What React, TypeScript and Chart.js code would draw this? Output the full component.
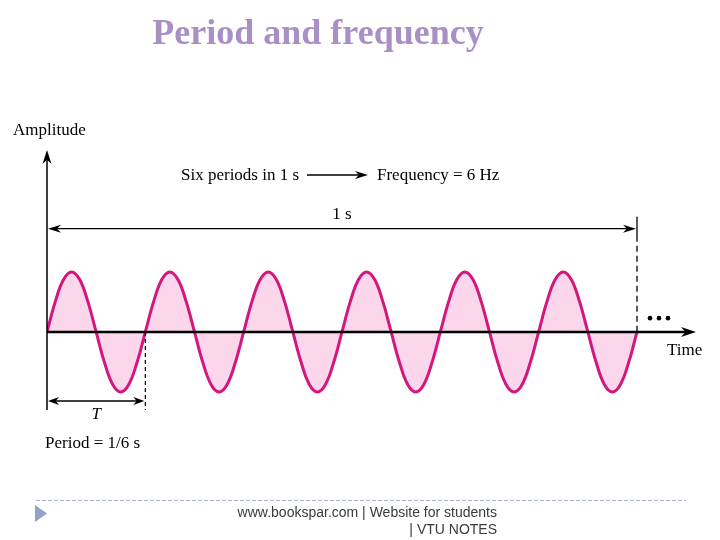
import React, { useEffect, useRef } from "react";
import { Chart, registerables } from "chart.js";

Chart.register(...registerables);

// Time in seconds (1/12 of a period per step, 6 periods in 1 s)
const timeSeconds = [
  0, 0.0139, 0.0278, 0.0417, 0.0556, 0.0694, 0.0833, 0.0972, 0.1111, 0.125, 0.1389, 0.1528,
  0.1667, 0.1806, 0.1944, 0.2083, 0.2222, 0.2361, 0.25, 0.2639, 0.2778, 0.2917, 0.3056, 0.3194,
  0.3333, 0.3472, 0.3611, 0.375, 0.3889, 0.4028, 0.4167, 0.4306, 0.4444, 0.4583, 0.4722, 0.4861,
  0.5, 0.5139, 0.5278, 0.5417, 0.5556, 0.5694, 0.5833, 0.5972, 0.6111, 0.625, 0.6389, 0.6528,
  0.6667, 0.6806, 0.6944, 0.7083, 0.7222, 0.7361, 0.75, 0.7639, 0.7778, 0.7917, 0.8056, 0.8194,
  0.8333, 0.8472, 0.8611, 0.875, 0.8889, 0.9028, 0.9167, 0.9306, 0.9444, 0.9583, 0.9722, 0.9861,
  1,
];

// Amplitude (normalised, peak = 1)
const amplitude = [
  0, 0.5, 0.87, 1, 0.87, 0.5, 0, -0.5, -0.87, -1, -0.87, -0.5,
  0, 0.5, 0.87, 1, 0.87, 0.5, 0, -0.5, -0.87, -1, -0.87, -0.5,
  0, 0.5, 0.87, 1, 0.87, 0.5, 0, -0.5, -0.87, -1, -0.87, -0.5,
  0, 0.5, 0.87, 1, 0.87, 0.5, 0, -0.5, -0.87, -1, -0.87, -0.5,
  0, 0.5, 0.87, 1, 0.87, 0.5, 0, -0.5, -0.87, -1, -0.87, -0.5,
  0, 0.5, 0.87, 1, 0.87, 0.5, 0, -0.5, -0.87, -1, -0.87, -0.5,
  0,
];

const periodSeconds = 1 / 6;
const totalSeconds = 1;

const titleText = "Period and frequency";
const yAxisLabel = "Amplitude";
const xAxisLabel = "Time";
const sixPeriodsText = "Six periods in 1 s";
const frequencyText = "Frequency = 6 Hz";
const oneSecondText = "1 s";
const periodSymbol = "T";
const periodText = "Period = 1/6 s";
const footerLine1 = "www.bookspar.com | Website for students";
const footerLine2 = "| VTU NOTES";

const SERIF = '"Liberation Serif", "DejaVu Serif", serif';
const SANS = '"Liberation Sans", Arial, sans-serif';

function arrowHead(ctx: CanvasRenderingContext2D, tipX: number, tipY: number, dir: "left" | "right" | "up", len = 13, half = 4.5) {
  ctx.save();
  ctx.translate(tipX, tipY);
  const rot = dir === "right" ? 0 : dir === "left" ? Math.PI : -Math.PI / 2;
  ctx.rotate(rot);
  ctx.beginPath();
  ctx.moveTo(0, 0);
  ctx.lineTo(-len, -half);
  ctx.lineTo(-len * 0.7, 0);
  ctx.lineTo(-len, half);
  ctx.closePath();
  ctx.fillStyle = "#000";
  ctx.fill();
  ctx.restore();
}

const overlayPlugin = {
  id: "overlay",
  afterDatasetsDraw(chart: any) {
    const ctx: CanvasRenderingContext2D = chart.ctx;
    const xs = chart.scales.x;
    const ys = chart.scales.y;
    const x0 = xs.getPixelForValue(0);
    const y0 = ys.getPixelForValue(0);
    const xEnd = xs.getPixelForValue(totalSeconds);
    const xT = xs.getPixelForValue(periodSeconds);
    const top = chart.chartArea.top;
    const bottom = chart.chartArea.bottom;
    const right = chart.chartArea.right;

    ctx.save();
    ctx.strokeStyle = "#000";
    ctx.lineCap = "butt";

    // Y axis
    ctx.lineWidth = 1.5;
    ctx.beginPath();
    ctx.moveTo(x0, bottom);
    ctx.lineTo(x0, top + 8);
    ctx.stroke();
    arrowHead(ctx, x0, top, "up", 14, 4.5);

    // X axis
    ctx.lineWidth = 2.5;
    ctx.beginPath();
    ctx.moveTo(x0, y0);
    ctx.lineTo(right - 8, y0);
    ctx.stroke();
    arrowHead(ctx, right, y0, "right", 15, 5);

    // 1 s dimension
    const y1s = ys.getPixelForValue(1.72);
    ctx.lineWidth = 1.3;
    ctx.beginPath();
    ctx.moveTo(x0 + 6, y1s);
    ctx.lineTo(xEnd - 6, y1s);
    ctx.stroke();
    arrowHead(ctx, x0 + 1, y1s, "left", 13, 4);
    arrowHead(ctx, xEnd - 1, y1s, "right", 13, 4);

    // vertical at 1 s
    ctx.lineWidth = 1.3;
    ctx.beginPath();
    ctx.moveTo(xEnd, ys.getPixelForValue(1.92));
    ctx.lineTo(xEnd, ys.getPixelForValue(1.6));
    ctx.stroke();
    ctx.setLineDash([6, 4]);
    ctx.beginPath();
    ctx.moveTo(xEnd, ys.getPixelForValue(1.6));
    ctx.lineTo(xEnd, y0);
    ctx.stroke();
    ctx.setLineDash([]);

    // dots
    ctx.fillStyle = "#000";
    const yDots = ys.getPixelForValue(0.23);
    [650, 659, 668].forEach((px) => {
      ctx.beginPath();
      ctx.arc(px, yDots, 2.3, 0, Math.PI * 2);
      ctx.fill();
    });

    // T dimension
    const yT = ys.getPixelForValue(-1.15);
    ctx.lineWidth = 1.3;
    ctx.beginPath();
    ctx.moveTo(x0 + 6, yT);
    ctx.lineTo(xT - 6, yT);
    ctx.stroke();
    arrowHead(ctx, x0 + 1, yT, "left", 11, 4);
    arrowHead(ctx, xT - 1, yT, "right", 11, 4);
    ctx.setLineDash([4, 3]);
    ctx.lineWidth = 1.2;
    ctx.beginPath();
    ctx.moveTo(xT, y0);
    ctx.lineTo(xT, bottom);
    ctx.stroke();
    ctx.setLineDash([]);

    // texts
    ctx.fillStyle = "#000";
    ctx.textBaseline = "middle";
    ctx.textAlign = "left";
    ctx.font = `17px ${SERIF}`;
    ctx.fillText(yAxisLabel, 13, 131);
    ctx.fillText(sixPeriodsText, 181, 176);
    ctx.fillText(frequencyText, 377, 176);
    ctx.fillText(xAxisLabel, 667, 351);
    ctx.fillText(periodText, 45, 444);
    ctx.textAlign = "center";
    ctx.fillText(oneSecondText, (x0 + xEnd) / 2, 215);
    ctx.font = `italic 17px ${SERIF}`;
    ctx.fillText(periodSymbol, (x0 + xT) / 2, 415);

    // arrow between texts
    ctx.lineWidth = 1.5;
    ctx.beginPath();
    ctx.moveTo(307, 175);
    ctx.lineTo(360, 175);
    ctx.stroke();
    arrowHead(ctx, 368, 175, "right", 13, 4);

    // title
    ctx.font = `bold 36px ${SERIF}`;
    ctx.fillStyle = "#a88fc5";
    ctx.textAlign = "center";
    ctx.fillText(titleText, 318, 35);

    // footer
    ctx.strokeStyle = "#a7b3c6";
    ctx.lineWidth = 1;
    ctx.setLineDash([4, 2]);
    ctx.beginPath();
    ctx.moveTo(36, 500.5);
    ctx.lineTo(686, 500.5);
    ctx.stroke();
    ctx.setLineDash([]);
    ctx.fillStyle = "#8fa3c4";
    ctx.beginPath();
    ctx.moveTo(35, 505);
    ctx.lineTo(47, 513.5);
    ctx.lineTo(35, 522);
    ctx.closePath();
    ctx.fill();
    ctx.fillStyle = "#3a3a3a";
    ctx.font = `14px ${SANS}`;
    ctx.textAlign = "right";
    ctx.fillText(footerLine1, 497, 513);
    ctx.fillText(footerLine2, 497, 530);

    ctx.restore();
  },
};

export default function App() {
  const ref = useRef<HTMLCanvasElement | null>(null);
  useEffect(() => {
    if (!ref.current) return;
    const chart = new Chart(ref.current, {
      type: "line",
      data: {
        datasets: [
          {
            data: timeSeconds.map((t, i) => ({ x: t, y: amplitude[i] })),
            borderColor: "#d3177f",
            borderWidth: 3,
            backgroundColor: "#fcd6ea",
            fill: "origin",
            pointRadius: 0,
            tension: 0.4,
          },
        ],
      },
      options: {
        responsive: false,
        animation: false,
        events: [],
        layout: { padding: { left: 47, right: 24, top: 150, bottom: 130 } },
        scales: {
          x: { type: "linear", min: 0, max: 1.1, display: false },
          y: { type: "linear", min: -1.3, max: 3.03, display: false },
        },
        plugins: { legend: { display: false }, tooltip: { enabled: false }, title: { display: false } },
      },
      plugins: [overlayPlugin],
    });
    return () => chart.destroy();
  }, []);
  return (
    <div style={{ position: "fixed", left: 0, top: 0, width: 720, height: 540, background: "#fff" }}>
      <canvas ref={ref} width={720} height={540} style={{ width: 720, height: 540, display: "block" }} />
    </div>
  );
}
